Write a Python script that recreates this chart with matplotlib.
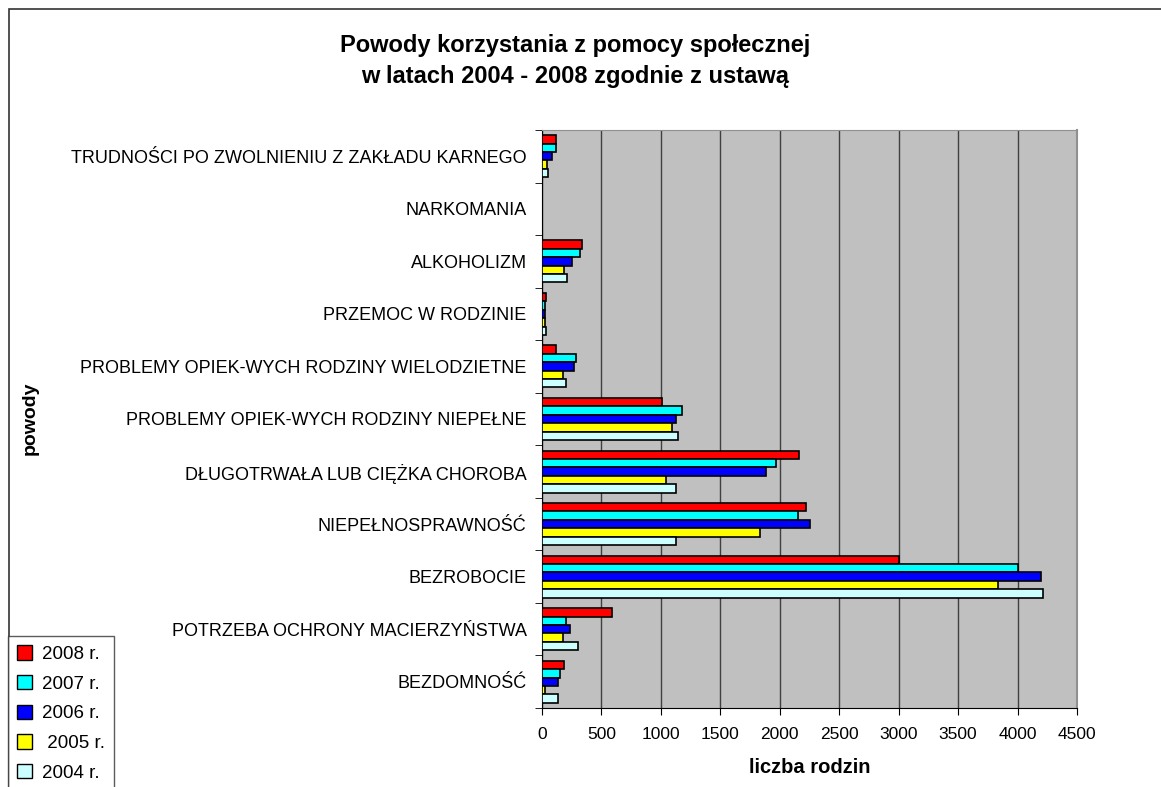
import matplotlib
matplotlib.use('Agg')
import matplotlib.pyplot as plt
from matplotlib.patches import Rectangle
import numpy as np

plt.rcParams['font.family'] = ['Liberation Sans', 'DejaVu Sans']

# categories, bottom to top
categories = [
    'BEZDOMNOŚĆ',
    'POTRZEBA OCHRONY MACIERZYŃSTWA',
    'BEZROBOCIE',
    'NIEPEŁNOSPRAWNOŚĆ',
    'DŁUGOTRWAŁA LUB CIĘŻKA CHOROBA',
    'PROBLEMY OPIEK-WYCH RODZINY NIEPEŁNE',
    'PROBLEMY OPIEK-WYCH RODZINY WIELODZIETNE',
    'PRZEMOC W RODZINIE',
    'ALKOHOLIZM',
    'NARKOMANIA',
    'TRUDNOŚCI PO ZWOLNIENIU Z ZAKŁADU KARNEGO',
]

v2008 = [184, 590, 3000, 2225, 2160, 1011, 115, 31, 339, 0, 115]
v2007 = [152, 200, 4000, 2155, 1972, 1179, 286, 28, 317, 0, 118]
v2006 = [132, 238, 4200, 2258, 1888, 1126, 272, 28, 252, 0, 84]
v2005 = [29, 180, 3840, 1835, 1040, 1092, 179, 28, 182, 0, 45]
v2004 = [132, 303, 4215, 1128, 1128, 1146, 202, 34, 207, 0, 50]

series = [v2008, v2007, v2006, v2005, v2004]
labels = ['2008 r.', '2007 r.', '2006 r.', ' 2005 r.', '2004 r.']
colors = ['#FF0000', '#00FFFF', '#0000FF', '#FFFF00', '#CCFFFF']

xticks = [0, 500, 1000, 1500, 2000, 2500, 3000, 3500, 4000, 4500]

fig = plt.figure(figsize=(11.61, 7.87), dpi=100)
ax = fig.add_axes([0.4668, 0.1004, 0.4608, 0.7344])
ax.set_facecolor('#C0C0C0')

y = np.arange(len(categories))
h = 0.16
bars = []
for i, vals in enumerate(series):
    off = 0.32 - i * h
    b = ax.barh(y + off, vals, height=h, color=colors[i],
                edgecolor='black', linewidth=1.2, zorder=3)
    bars.append(b)

ax.set_xlim(0, 4500)
ax.set_ylim(-0.5, len(categories) - 0.5)
ax.set_xticks(xticks)
ax.set_xticklabels([str(t) for t in xticks], fontsize=12.5)
ax.xaxis.grid(True, color='#404040', linewidth=1.0, zorder=1)
ax.tick_params(axis='x', direction='out', length=5, pad=9)

ax.set_yticks(y)
ax.set_yticklabels(categories, fontsize=13)
ax.set_yticks(np.arange(-0.5, len(categories) + 0.5, 1), minor=True)
ax.tick_params(axis='y', which='major', length=0, pad=11)
ax.tick_params(axis='y', which='minor', direction='out', length=5)

ax.spines['left'].set_color('black')
ax.spines['bottom'].set_color('black')
ax.spines['top'].set_color('#909090')
ax.spines['right'].set_color('#909090')
ax.spines['right'].set_linewidth(1.5)

ax.set_xlabel('liczba rodzin', fontsize=14.5, fontweight='bold', labelpad=11)
fig.text(30 / 1161, 1 - 418 / 787, 'powody', rotation=90, fontsize=14,
         fontweight='bold', ha='center', va='center')

fig.text(575 / 1161, 1 - 61 / 787,
         'Powody korzystania z pomocy społecznej\nw latach 2004 - 2008 zgodnie z ustawą',
         ha='center', va='center', fontsize=17, fontweight='bold', linespacing=1.4)

# outer border
fig.patches.append(Rectangle((9 / 1161, -0.1), 1.2, 1.1 - 9 / 787,
                             transform=fig.transFigure, fill=False,
                             edgecolor='#333333', linewidth=1.2))

leg = fig.legend(bars, labels, loc='upper left',
                 bbox_to_anchor=(8 / 1161, 1 - 636 / 787),
                 fontsize=13.5, frameon=True, fancybox=False,
                 handlelength=0.8, handleheight=0.8, handletextpad=0.5,
                 labelspacing=0.64, borderpad=0.5, borderaxespad=0)
leg.get_frame().set_edgecolor('#333333')
leg.get_frame().set_linewidth(1.0)
for p in leg.get_patches():
    p.set_linewidth(1.0)

fig.savefig('out.png', dpi=100)
